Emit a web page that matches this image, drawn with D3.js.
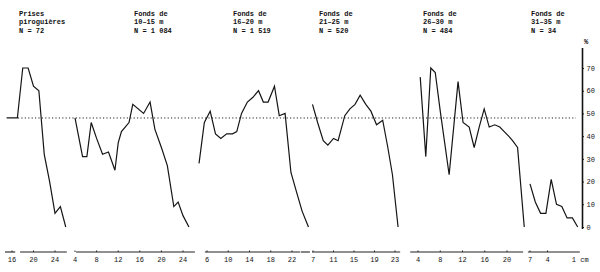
<!DOCTYPE html>
<html>
<head>
<meta charset="utf-8">
<script src="https://cdn.jsdelivr.net/npm/d3@7"></script>
<style>
  body { margin: 0; background: #fff; }
  text { font-family: "Liberation Mono", "DejaVu Sans Mono", monospace; fill: #111; }
  .title { font-size: 7px; font-weight: bold; }
  .tick { font-size: 7px; }
</style>
</head>
<body>
<div id="chart"></div>
<script>
// values (length classes in cm, % per class)
var titles = [
    ["Prises", "piroguières", "N = 72"],
    ["Fonds de", "10–15 m", "N = 1 084"],
    ["Fonds de", "16–20 m", "N = 1 519"],
    ["Fonds de", "21–25 m", "N = 520"],
    ["Fonds de", "26–30 m", "N = 484"],
    ["Fonds de", "31–35 m", "N = 34"]
];

var lenPirogue = [15, 16, 17, 18, 19, 20, 21, 22, 23, 24, 25, 26];
var pctPirogue = [48, 48, 48, 70, 70, 62, 60, 32, 20, 6, 9, 0];

var len1015 = [4, 5.4, 6.2, 7, 8, 9.1, 10.2, 11.4, 12, 12.6, 14, 14.7, 16.7, 17.9, 18.8, 20, 21.1, 22.3, 23.1, 24, 25.1];
var pct1015 = [48, 31, 31, 46, 39, 32, 33, 25, 37, 42, 46, 54, 50, 55, 43, 35, 27, 9, 11, 5, 0];

var len1620 = [4.5, 5.5, 6.6, 7.6, 8.6, 9.7, 10.8, 11.6, 12.5, 13.6, 14.6, 15.7, 16.6, 17.5, 18.7, 19.6, 20.7, 21.8, 22.9, 23.9, 25.1];
var pct1620 = [28, 46, 51, 41, 39, 41, 41, 42, 50, 55, 57, 60, 55, 55, 62, 49, 50, 24, 15, 7, 0];

var len2125 = [6.9, 7.9, 9.0, 9.9, 11.0, 11.9, 13.2, 14.2, 15.2, 16.2, 17.3, 18.3, 19.4, 20.6, 21.6, 22.5, 23.6];
var pct2125 = [54, 46, 38, 36, 39, 38, 49, 52, 54, 58, 54, 51, 45, 47, 35, 23, 0];

var len2630 = [4.4, 5.4, 6.3, 7.1, 8.0, 9.6, 11.2, 12.1, 13.2, 14.1, 15.0, 15.9, 16.8, 17.8, 18.7, 19.5, 20.3, 21.0, 21.9, 23.1];
var pct2630 = [66, 31, 70, 68, 51, 23, 64, 46, 44, 35, 44, 52, 44, 45, 44, 42, 40, 38, 35, 0];

var len3135 = [7, 8, 9, 10, 11, 12, 13, 14, 15, 16];
var pct3135 = [19, 11, 6, 6, 21, 10, 9, 4, 4, 0];

var ticks1 = [16, 20, 24];
var ticks2 = [4, 8, 12, 16, 20, 24];
var ticks3 = [6, 10, 14, 18, 22];
var ticks4 = [7, 11, 15, 19, 23];
var ticks5 = [4, 8, 12, 16, 20];
var ticks6 = [7, 10.3];
var tickText6 = ["7", "4"];

var yTicks = [0, 10, 20, 30, 40, 50, 60, 70];
var refValue = 48;

// layout of the panels (pixel position of two ticks, axis stretches in cm)
var panels = [
    {len: lenPirogue, pct: pctPirogue, ticks: ticks1, d: [16, 24], r: [12, 55], axis: [[14.7, 16.6], [17.5, 26.2]], tx: 19},
    {len: len1015, pct: pct1015, ticks: ticks2, d: [4, 24], r: [75, 183], axis: [[4.2, 26.2]], tx: 134},
    {len: len1620, pct: pct1620, ticks: ticks3, d: [6, 22], r: [207, 292], axis: [[5.6, 23.5]], tx: 233},
    {len: len2125, pct: pct2125, ticks: ticks4, d: [7, 23], r: [313, 395], axis: [[4.6, 6.4], [6.8, 24.0]], tx: 319},
    {len: len2630, pct: pct2630, ticks: ticks5, d: [4, 20], r: [418, 507], axis: [[2.6, 22.9]], tx: 423},
    {len: len3135, pct: pct3135, ticks: ticks6, tickText: tickText6, d: [7, 16], r: [530, 577.7], axis: [[6.6, 16.4]], tx: 531}
];

var svgWidth = 600;
var svgHeight = 272;

var svg = d3.select("#chart")
            .append("svg")
            .attr("width", svgWidth)
            .attr("height", svgHeight);

var yScale = d3.scaleLinear()
               .domain([0, 70])
               .range([227, 68]);

// dotted reference line
svg.append("line")
   .attr("x1", 18)
   .attr("x2", 576)
   .attr("y1", yScale(refValue))
   .attr("y2", yScale(refValue))
   .attr("stroke", "#222")
   .attr("stroke-width", 1)
   .attr("stroke-dasharray", "1.2,2.2");

var axisY = 252;

panels.forEach(function(p, i) {
    var x = d3.scaleLinear().domain(p.d).range(p.r);

    var line = d3.line()
                 .x(function(d) { return x(d[0]); })
                 .y(function(d) { return yScale(d[1]); });

    svg.append("path")
       .datum(d3.zip(p.len, p.pct))
       .attr("d", line)
       .attr("fill", "none")
       .attr("stroke", "#151515")
       .attr("stroke-width", 1.2)
       .attr("stroke-linejoin", "miter");

    // titles
    var t = svg.append("text")
               .attr("class", "title")
               .attr("x", p.tx)
               .attr("y", 16);
    titles[i].forEach(function(s, k) {
        t.append("tspan")
         .attr("x", p.tx)
         .attr("y", 16 + k * 8.4)
         .text(s);
    });

    // bottom axis pieces
    p.axis.forEach(function(a) {
        svg.append("line")
           .attr("x1", x(a[0]))
           .attr("x2", x(a[1]))
           .attr("y1", axisY)
           .attr("y2", axisY)
           .attr("stroke", "#222")
           .attr("stroke-width", 1.1);
    });

    svg.selectAll(null)
       .data(p.ticks)
       .enter()
       .append("line")
       .attr("x1", d => x(d))
       .attr("x2", d => x(d))
       .attr("y1", axisY - 1.5)
       .attr("y2", axisY)
       .attr("stroke", "#222")
       .attr("stroke-width", 1);

    svg.selectAll(null)
       .data(p.ticks)
       .enter()
       .append("text")
       .attr("class", "tick")
       .attr("x", d => x(d))
       .attr("y", 262)
       .attr("text-anchor", "middle")
       .text((d, k) => p.tickText ? p.tickText[k] : d);

    if (i == 5) {
        svg.append("text")
           .attr("class", "tick")
           .attr("x", x(14.9))
           .attr("y", 262)
           .text("1 cm");
    }
});

// right hand y axis
var rightAxis = d3.axisRight(yScale)
                  .tickValues(yTicks)
                  .tickSize(1.5)
                  .tickPadding(2.5);

var yAxisG = svg.append("g")
                .attr("transform", "translate(582.5,0)")
                .call(rightAxis);

yAxisG.select(".domain").remove();
yAxisG.selectAll("text")
      .attr("class", "tick")
      .style("font-family", "Liberation Mono, monospace")
      .style("font-size", "7px");
yAxisG.selectAll("line").attr("stroke", "#222");

svg.append("line")
   .attr("x1", 582.5)
   .attr("x2", 582.5)
   .attr("y1", 48)
   .attr("y2", 229)
   .attr("stroke", "#111")
   .attr("stroke-width", 1.6);

svg.append("text")
   .attr("class", "title")
   .attr("x", 584)
   .attr("y", 44)
   .text("%");
</script>
</body>
</html>
